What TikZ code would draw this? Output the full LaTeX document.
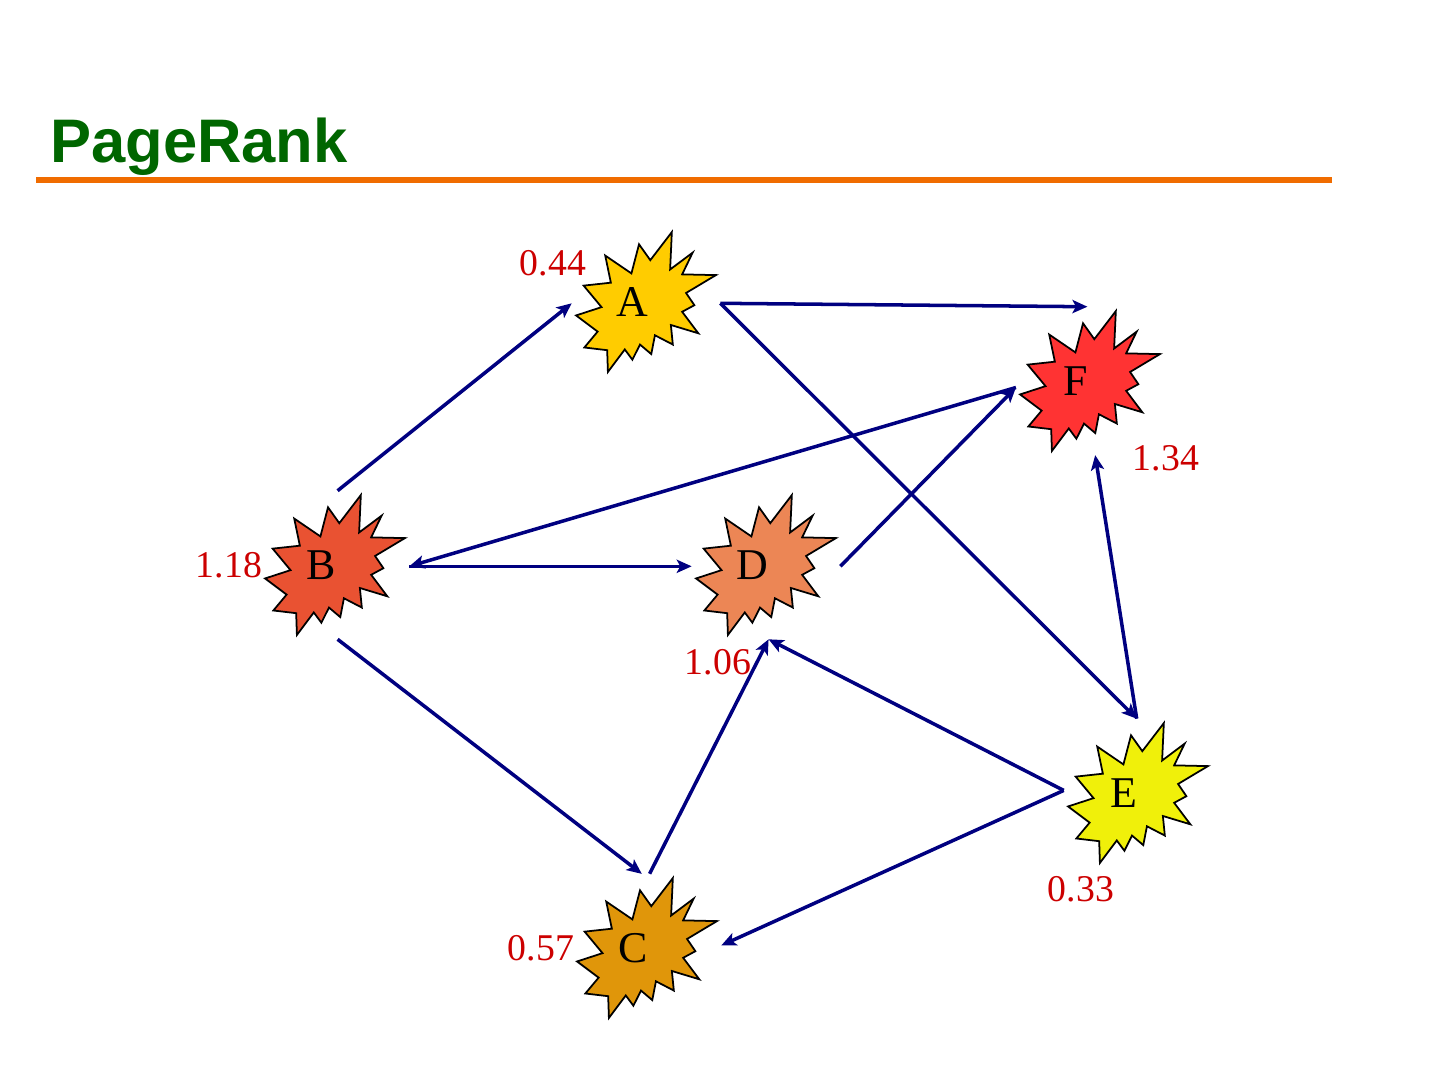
\documentclass[tikz,border=0pt]{standalone}
\usepackage{fontspec}
\setmainfont{Liberation Serif}
\newfontfamily\titlefont{Liberation Sans}
\usetikzlibrary{arrows.meta}

\definecolor{pageranktitle}{RGB}{0,102,0}
\definecolor{pagerankrule}{RGB}{240,108,0}
\definecolor{pagerankscore}{RGB}{204,0,0}
\definecolor{pagerankarrow}{RGB}{0,0,128}
\definecolor{pagerankburst1}{RGB}{255,204,0}
\definecolor{pagerankburst2}{RGB}{233,82,50}
\definecolor{pagerankburst3}{RGB}{224,150,10}
\definecolor{pagerankburst4}{RGB}{236,134,85}
\definecolor{pagerankburst5}{RGB}{240,240,10}
\definecolor{pagerankburst6}{RGB}{255,51,51}

\tikzset{
  burstnode/.style={circle,minimum size=2.96cm,inner sep=0pt},
  burstline/.style={draw=black,line width=1pt,line join=miter},
  letter/.style={inner sep=0pt,font=\fontsize{25}{25}\selectfont},
  score/.style={inner sep=0pt,text=pagerankscore,font=\fontsize{21.5}{22}\selectfont},
  link/.style={draw=pagerankarrow,line width=2pt,-{Stealth[length=8.5pt,width=7.5pt,inset=2pt]}},
}

\newcommand{\pagerankburst}[2]{%
  \begin{scope}[shift={(#1)},x=0.01296cm,y=-0.01296cm,shift={(-108,-108)}]
    \draw[burstline,fill=#2] (114.64,43.40) -- (97.22,18.87) -- (85.48,63.83) -- (45.03,36.26)
      -- (53.73,78.16) -- (11.74,82.70) -- (39.34,115.92) -- (0,128.75) -- (33.29,153.72)
      -- (12.83,178.24) -- (48.04,182.39) -- (49.18,216) -- (75.25,181.25) -- (86.98,197.12)
      -- (98.71,173.71) -- (116.14,188.44) -- (121.78,159.37) -- (149.43,173.71)
      -- (146.40,143.48) -- (188.78,156.32) -- (163.82,123.11) -- (182.70,112.92)
      -- (169.86,94.04) -- (216,66.46) -- (163.82,65.33) -- (180.05,31.72) -- (145.24,57.78)
      -- (147.89,0) -- cycle;
  \end{scope}}

\begin{document}
\begin{tikzpicture}[x=0.02cm,y=-0.02cm]
\useasboundingbox (0,0) rectangle (1440,1080);

\node[anchor=base west,inner sep=0pt,text=pageranktitle,font=\titlefont\bfseries\fontsize{35}{35}\selectfont] (title) at (50,162) {PageRank};
\draw[pagerankrule,line width=2.9pt] (36,180) -- (1332,180);

\node[burstnode] (A) at (646,302) {};
\node[burstnode] (B) at (335,565) {};
\node[burstnode] (C) at (647,948) {};
\node[burstnode] (D) at (766,565) {};
\node[burstnode] (E) at (1138,793) {};
\node[burstnode] (F) at (1090,381) {};

\pagerankburst{A}{pagerankburst1}
\pagerankburst{B}{pagerankburst2}
\pagerankburst{C}{pagerankburst3}
\pagerankburst{D}{pagerankburst4}
\pagerankburst{E}{pagerankburst5}
\pagerankburst{F}{pagerankburst6}

\node[letter] (A-name) at ([xshift=-0.28cm]A.center) {A};
\node[letter] (B-name) at ([xshift=-0.28cm]B.center) {B};
\node[letter] (C-name) at ([xshift=-0.28cm]C.center) {C};
\node[letter] (D-name) at ([xshift=-0.28cm]D.center) {D};
\node[letter] (E-name) at ([xshift=-0.28cm]E.center) {E};
\node[letter] (F-name) at ([xshift=-0.28cm]F.center) {F};

\node[score] (A-score) at (553,263) {0.44};
\node[score] (B-score) at (229,565) {1.18};
\node[score] (C-score) at (541,948) {0.57};
\node[score] (D-score) at (718,662) {1.06};
\node[score] (E-score) at (1081,889) {0.33};
\node[score] (F-score) at (1166,458) {1.34};

\draw[link] (B.88) -- (A.181);
\draw[link] (A.-1) -- (F.92);
\draw[link] (A.-1) -- (E.91);
\draw[link] (F.185) -- (B.-1);
\draw[link] (D.-1) -- (F.185);
\draw[link] (B.-1) -- (D.181);
\draw[link] (B.-88) -- (C.94);
\draw[link] (C.88) -- (D.-88);
\draw[link] (E.178) -- (D.-88);
\draw[link] (E.178) -- (C.2);
\draw[link] (E.91) -- (F.-86);
\end{tikzpicture}
\end{document}
